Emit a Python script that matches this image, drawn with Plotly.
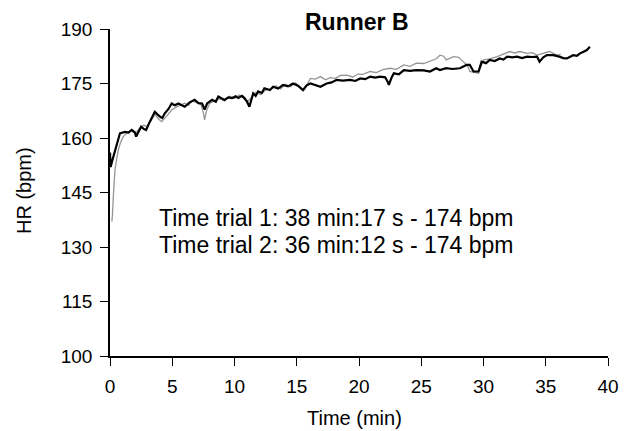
import plotly.graph_objects as go

# Trial 1 (black)
t1 = [0.0, 0.05, 0.2, 0.5, 0.8, 1.2, 1.5, 1.74, 2.0, 2.1, 2.3, 2.5, 2.7, 2.9, 3.2, 3.6, 4.0, 4.2, 4.4, 4.7,
      4.95, 5.2, 5.5, 5.8, 6.0, 6.4, 6.8, 7.1, 7.4, 7.6, 7.8, 8.2, 8.5, 8.7, 9.0, 9.2, 9.5, 9.8, 10.1, 10.3,
      10.6, 10.8, 11.0, 11.2, 11.5, 11.7, 11.9, 12.2, 12.4, 12.85, 13.1, 13.5, 13.9, 14.3, 14.7, 15.1, 15.5, 15.8, 16.1, 16.5,
      16.9, 17.4, 17.8, 18.2, 18.7, 19.3, 19.7, 20.1, 20.5, 20.9, 21.3, 21.7, 22.1, 22.3, 22.4, 22.6, 22.8, 23.2, 23.6, 24.1,
      24.6, 25.2, 25.7, 26.2, 26.5, 27.0, 27.5, 28.1, 28.65, 28.9, 29.2, 29.6, 29.85, 30.2, 30.5, 30.9, 31.3, 31.6, 31.9, 32.3,
      32.7, 33.1, 33.5, 33.9, 34.3, 34.5, 34.8, 35.1, 35.6, 36.1, 36.4, 36.7, 37.0, 37.2, 37.5, 37.75, 38.0, 38.3, 38.55]
hr1 = [156, 152, 154, 158, 161.3, 161.7, 161.5, 162.2, 161.5, 160.4, 162, 163.1, 162.5, 162.2, 164.5, 167.2, 165.9, 165.5, 166.8, 168,
       169.5, 169, 169.5, 168.9, 168.6, 169.8, 170.5, 169.6, 169.5, 167.8, 169.5, 170.5, 170, 171.4, 170.8, 170.5, 171.2, 171, 171.5, 171,
       171.6, 171, 170, 168.6, 172.3, 171.6, 172.8, 172.4, 173.7, 173.2, 174.1, 173.6, 174.6, 174.2, 175.0, 174.4, 173.2, 174.5, 175.0, 174.6,
       174.1, 175.0, 175.3, 176, 175.8, 176, 175.7, 176.4, 176.2, 176.9, 176.6, 176.9, 176.7, 175.5, 174.6, 176.5, 177.8, 177.5, 178.7, 178.5,
       178.7, 178.6, 178.3, 179.2, 178.7, 179.2, 179.0, 179.2, 180.1, 180.1, 178.3, 178.3, 181.0, 180.6, 181.5, 181.2, 181.9, 181.6, 182.4, 182.2,
       182.4, 182.0, 182.4, 182.3, 182.4, 181.0, 182.2, 182.8, 182.8, 182.4, 182.0, 181.9, 182.5, 182.8, 182.6, 183.3, 183.7, 184.2, 185.1]

# Trial 2 (grey)
t2 = [0.15, 0.2, 0.3, 0.4, 0.55, 0.67, 0.85, 1.07, 1.3, 1.5, 1.8, 2.1, 2.4, 2.7, 3.0, 3.3, 3.6, 3.9, 4.15, 4.5,
      4.95, 5.3, 5.6, 6.0, 6.3, 6.6, 7.0, 7.3, 7.5, 7.6, 7.75, 8.0, 8.4, 8.8, 9.2, 9.6, 10.0, 10.4, 10.8, 11.1,
      11.4, 11.7, 12.1, 12.5, 12.9, 13.3, 13.7, 14.1, 14.5, 14.9, 15.3, 15.6, 15.9, 16.1, 16.5, 16.9, 17.3, 17.7, 18.1, 18.5,
      19.0, 19.5, 19.9, 20.3, 20.9, 21.4, 21.9, 22.5, 23.0, 23.6, 24.1, 24.6, 25.2, 25.7, 26.2, 26.5, 26.8, 27.0, 27.6, 28.0,
      28.4, 28.7, 28.9, 29.2, 29.6, 30.0, 30.5, 31.1, 31.6, 32.1, 32.5, 32.9, 33.5, 33.9, 34.3, 34.8, 35.3, 35.9, 36.2]
hr2 = [137, 139, 146, 151.2, 154.5, 156.7, 158.8, 160.4, 161.2, 161.8, 162.3, 161.5, 162.8, 163.5, 163.2, 165, 166.5, 165.2, 164.5, 165.8,
       167.7, 168.5, 168.9, 169.6, 169, 170.2, 169.8, 169.2, 167, 165, 167.5, 169.5, 170.3, 170.8, 170.2, 171.5, 170.9, 171.8, 170.6, 170.2,
       171.2, 172.6, 171.9, 173.2, 173.4, 174.4, 173.5, 174.8, 174.1, 175.2, 173.8, 173.3, 175.2, 176.4, 176.2, 176.9, 176.0, 176.6, 176.4, 177.2,
       177.3, 176.8, 177.6, 177.5, 178.3, 178.0, 178.8, 179.2, 178.9, 180.1, 179.7, 180.6, 180.5, 181.2, 181.8, 182.8, 182.5, 181.5, 182.4, 182.2,
       181.0, 180.0, 178.3, 178.0, 177.8, 181.5, 181.8, 182.4, 183.0, 183.8, 183.4, 183.8, 183.3, 183.5, 182.8, 183.2, 183.8, 182.8, 183.0]

x_ticks = [0, 5, 10, 15, 20, 25, 30, 35, 40]
y_ticks = [100, 115, 130, 145, 160, 175, 190]
title_text = "Runner B"
x_title = "Time (min)"
y_title = "HR (bpm)"
notes = ["Time trial 1: 38 min:17 s - 174 bpm", "Time trial 2: 36 min:12 s - 174 bpm"]

FONT = "Liberation Sans, Arial, sans-serif"

fig = go.Figure()
fig.add_trace(go.Scatter(x=t2, y=hr2, mode="lines", line=dict(color="#959595", width=1.3), showlegend=False))
fig.add_trace(go.Scatter(x=t1, y=hr1, mode="lines", line=dict(color="#000000", width=2.2), showlegend=False))

axis_common = dict(showline=True, linecolor="black", linewidth=1.6, ticks="outside", ticklen=8, tickwidth=1.4,
                   tickcolor="black", showgrid=False, zeroline=False, tickfont=dict(size=19, color="black", family=FONT))
fig.update_xaxes(range=[0, 40], tickvals=x_ticks, ticklabelstandoff=4, **axis_common)
fig.update_yaxes(range=[100, 190], tickvals=y_ticks, ticklabelstandoff=4, **axis_common)

# page has an 8px body offset; the plot area is kept at 110..608 x 29..356 on screen
OX, OY = 8, 8
FW, FH = 635 - OX, 431 - OY
L, T, W, H = 110 - OX, 29 - OY, 498, 327

def px(xp):
    return (xp - OX - L) / W

def py(yp):
    return (T + H - (yp - OY)) / H

annotations = [
    dict(text="<b>%s</b>" % title_text, xref="paper", yref="paper", x=px(356.5), y=py(22),
         xanchor="center", yanchor="middle", showarrow=False, font=dict(size=23, color="black", family=FONT)),
    dict(text=x_title, xref="paper", yref="paper", x=px(354), y=py(418),
         xanchor="center", yanchor="middle", showarrow=False, font=dict(size=20, color="black", family=FONT)),
    dict(text=y_title, xref="paper", yref="paper", x=px(24), y=py(191), textangle=-90,
         xanchor="center", yanchor="middle", showarrow=False, font=dict(size=20, color="black", family=FONT)),
]
for i, line in enumerate(notes):
    annotations.append(dict(text=line, xref="paper", yref="paper", x=px(157), y=py(218 + 27 * i),
                            xanchor="left", yanchor="middle", showarrow=False,
                            font=dict(size=23, color="black", family=FONT)))

fig.update_layout(width=FW, height=FH, margin=dict(l=L, r=FW - L - W, t=T, b=FH - T - H),
                  paper_bgcolor="white", plot_bgcolor="white", annotations=annotations,
                  font=dict(family=FONT, color="black"))
fig.write_html("out.html")
